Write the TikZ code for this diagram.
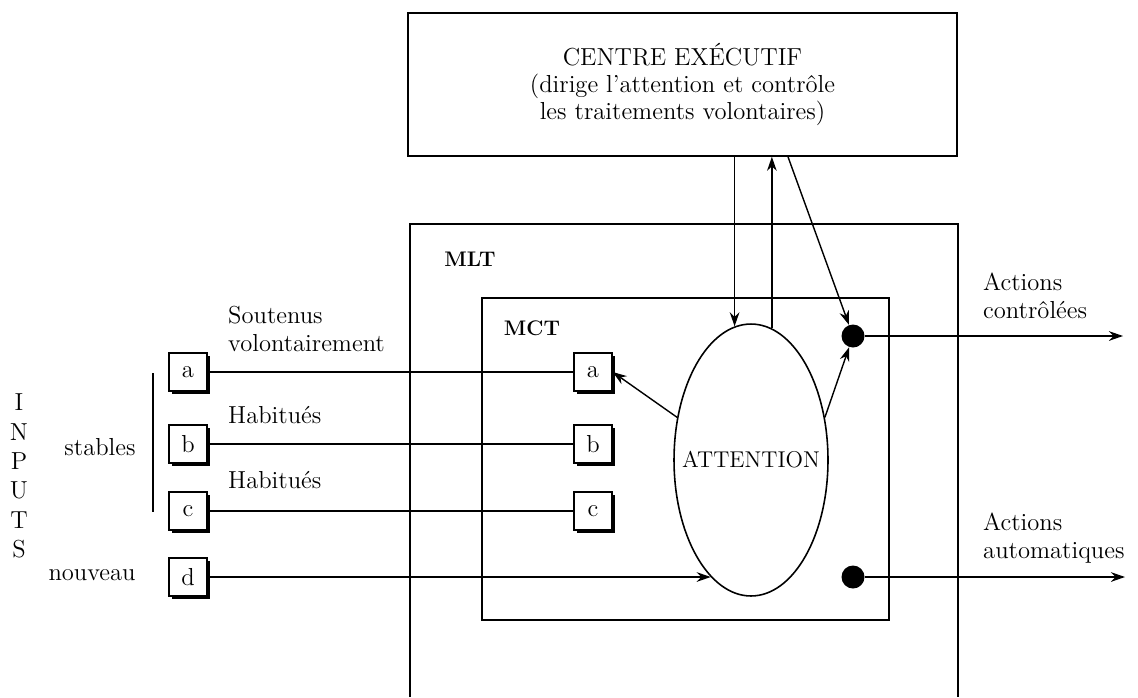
\documentclass[tikz,border=0pt]{standalone}
\usepackage{tikz}
\usetikzlibrary{positioning,shapes.geometric,shadows,arrows.meta}
\tikzstyle{diagram} = [x = 0.02cm, y = -0.02cm, every node/.style={font=\fontsize{14}{16}\selectfont}]
\tikzstyle{frameLine} = [line width=1pt]
\tikzstyle{linkLine} = [line width=0.8pt]
\tikzstyle{linkArrow} = [linkLine, -{Stealth[length=8pt, width=5.5pt]}]
\tikzstyle{centreBox} = [draw, line width=0.9pt, minimum width=10.98cm, minimum height=2.86cm, align=center, font=\fontsize{14}{15.5}\selectfont]
\tikzstyle{letterBox} = [draw, fill=white, line width=0.8pt, minimum size=0.76cm, inner sep=0pt, drop shadow={shadow xshift=1.8pt, shadow yshift=-1.8pt, opacity=1, fill=black}]
\tikzstyle{attentionShape} = [draw, ellipse, line width=0.9pt, minimum width=3.08cm, minimum height=5.44cm, inner sep=0pt, font=\fontsize{13}{15}\selectfont]
\tikzstyle{outputDot} = [circle, fill=black, minimum size=0.46cm, inner sep=0pt]
\tikzstyle{sideText} = [anchor=west, align=left]
\tikzstyle{memoryLabel} = [font=\fontsize{12}{14}\selectfont\bfseries]
\newcommand{\inputLink}[2]{\draw [linkLine] (#1) -- (#2);}

\begin{document}
\begin{tikzpicture}[diagram]
  \useasboundingbox (0,0) rectangle (1138,697);
  % memories
  \draw [frameLine] (410,697) |- (958,224) -- (958,697);
  \draw [frameLine] (482,298) rectangle (889,620);
  \node [memoryLabel] (mlt) at (470,259) {MLT};
  \node [memoryLabel] (mct) at (532,328) {MCT};

  \node [centreBox] (centre) at (682.5,84.5) {CENTRE EXÉCUTIF\\(dirige l'attention et contrôle\\les traitements volontaires)};
  \node [attentionShape] (attention) at (751,460) {\makebox[0pt]{ATTENTION}};
  \node [outputDot] (dotCtrl) at (853,336) {};
  \node [outputDot] (dotAuto) at (853,577) {};

  % inputs
  \node [align=center, font=\fontsize{14}{16.7}\selectfont] (inputs) at (19,476) {I\\N\\P\\U\\T\\S};
  \node (stables) at (100,447) {stables};
  \node (nouveau) at (92,575) {nouveau};
  \draw [line width=1.3pt] (153,373) -- (153,512);
  \node [letterBox] (inA) at (188,372) {a};
  \node [letterBox] (inB) at (188,444) {b};
  \node [letterBox] (inC) at (188,511) {c};
  \node [letterBox] (inD) at (188,577) {d};
  \node [letterBox] (mctA) at (593,372) {a};
  \node [letterBox] (mctB) at (593,444) {b};
  \node [letterBox] (mctC) at (593,511) {c};

  \inputLink{inA}{mctA}
  \inputLink{inB}{mctB}
  \inputLink{inC}{mctC}
  \draw [linkArrow] (inD) -- (inD -| attention.251.6);
  \node [sideText] (soutenus) at (222,329) {Soutenus\\volontairement};
  \node [sideText] (habitB) at (222,415) {Habitués};
  \node [sideText] (habitC) at (222,480) {Habitués};

  % control
  \draw [linkArrow] (centre.south -| attention.97.8) -- (attention.97.8);
  \draw [linkArrow] (attention.81.8) -- (attention.81.8 |- centre.south);
  \draw [linkArrow] ([xshift=2.11cm]centre.south) -- (dotCtrl);
  \draw [linkArrow] (attention.30) -- (dotCtrl);
  \draw [linkArrow] (attention.150) -- (mctA.east);

  % outputs
  \coordinate (outCtrl) at (1123,336);
  \coordinate (outAuto) at (1125,577);
  \draw [linkArrow] (dotCtrl) -- (outCtrl);
  \draw [linkArrow] (dotAuto) -- (outAuto);
  \node [sideText] (actCtrl) at (977,296) {Actions\\contrôlées};
  \node [sideText] (actAuto) at (977,538) {Actions\\automatiques};
\end{tikzpicture}
\end{document}
